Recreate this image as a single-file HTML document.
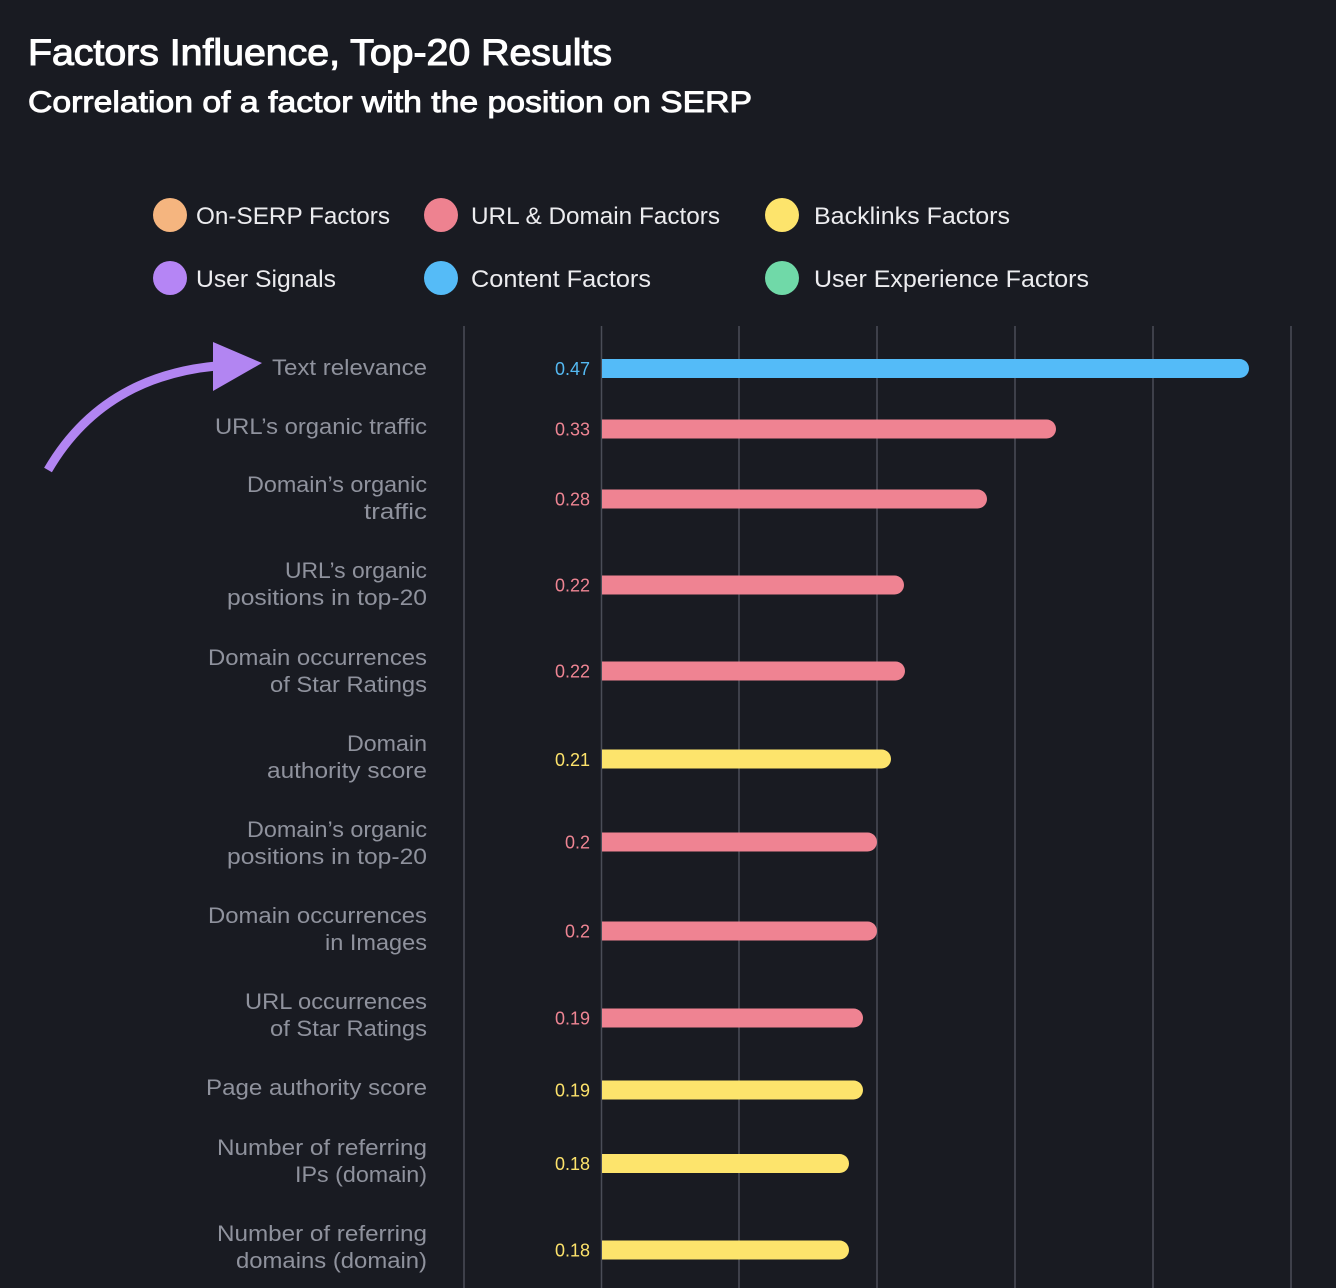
<!DOCTYPE html>
<html>
<head>
<meta charset="utf-8">
<style>
  html, body { margin: 0; padding: 0; background: #191b22; }
  svg { display: block; }
  text { font-family: "Liberation Sans", "DejaVu Sans", sans-serif; }
</style>
</head>
<body>
<svg width="1336" height="1288" viewBox="0 0 1336 1288" xmlns="http://www.w3.org/2000/svg">
  <rect x="0" y="0" width="1336" height="1288" fill="#191b22"/>

  <!-- Titles -->
  <text x="28" y="65" font-size="37" fill="#ffffff" stroke="#ffffff" stroke-width="1.1" textLength="584" lengthAdjust="spacingAndGlyphs">Factors Influence, Top-20 Results</text>
  <text x="28" y="112" font-size="30" fill="#ffffff" stroke="#ffffff" stroke-width="0.9" textLength="724" lengthAdjust="spacingAndGlyphs">Correlation of a factor with the position on SERP</text>

  <!-- Legend -->
  <g font-size="24" fill="#ececef">
    <circle cx="170" cy="215" r="17" fill="#f5b57f"/>
    <text x="196" y="224" textLength="194" lengthAdjust="spacingAndGlyphs">On-SERP Factors</text>
    <circle cx="441" cy="215" r="17" fill="#ee8290"/>
    <text x="471" y="224" textLength="249" lengthAdjust="spacingAndGlyphs">URL &amp; Domain Factors</text>
    <circle cx="782" cy="215" r="17" fill="#fde46c"/>
    <text x="814" y="224" textLength="196" lengthAdjust="spacingAndGlyphs">Backlinks Factors</text>

    <circle cx="170" cy="278" r="17" fill="#b585f5"/>
    <text x="196" y="287" textLength="140" lengthAdjust="spacingAndGlyphs">User Signals</text>
    <circle cx="441" cy="278" r="17" fill="#55bbf7"/>
    <text x="471" y="287" textLength="180" lengthAdjust="spacingAndGlyphs">Content Factors</text>
    <circle cx="782" cy="278" r="17" fill="#70d9a8"/>
    <text x="814" y="287" textLength="275" lengthAdjust="spacingAndGlyphs">User Experience Factors</text>
  </g>

  <!-- Grid lines -->
  <g stroke="#4a4d57" stroke-width="1.5">
    <line x1="464" y1="326" x2="464" y2="1288"/>
    <line x1="601.5" y1="326" x2="601.5" y2="1288"/>
    <line x1="739" y1="326" x2="739" y2="1288"/>
    <line x1="877" y1="326" x2="877" y2="1288"/>
    <line x1="1015" y1="326" x2="1015" y2="1288"/>
    <line x1="1153" y1="326" x2="1153" y2="1288"/>
    <line x1="1291" y1="326" x2="1291" y2="1288"/>
  </g>

  <!-- Arrow -->
  <path d="M48,470 Q102,377 216,366" fill="none" stroke="#b285f2" stroke-width="9" stroke-linecap="butt"/>
  <polygon points="213,342 262,363 213,391" fill="#b285f2"/>

  <!-- Category labels -->
  <g font-size="22.5" fill="#8f929d" text-anchor="end">
    <text x="427" y="375" textLength="155" lengthAdjust="spacingAndGlyphs">Text relevance</text>
    <text x="427" y="434" textLength="212" lengthAdjust="spacingAndGlyphs">URL’s organic traffic</text>

    <text x="427" y="492" textLength="180" lengthAdjust="spacingAndGlyphs">Domain’s organic</text>
    <text x="427" y="519" textLength="63" lengthAdjust="spacingAndGlyphs">traffic</text>

    <text x="427" y="578" textLength="142" lengthAdjust="spacingAndGlyphs">URL’s organic</text>
    <text x="427" y="605" textLength="200" lengthAdjust="spacingAndGlyphs">positions in top-20</text>

    <text x="427" y="665" textLength="219" lengthAdjust="spacingAndGlyphs">Domain occurrences</text>
    <text x="427" y="692" textLength="157" lengthAdjust="spacingAndGlyphs">of Star Ratings</text>

    <text x="427" y="751" textLength="80" lengthAdjust="spacingAndGlyphs">Domain</text>
    <text x="427" y="778" textLength="160" lengthAdjust="spacingAndGlyphs">authority score</text>

    <text x="427" y="837" textLength="180" lengthAdjust="spacingAndGlyphs">Domain’s organic</text>
    <text x="427" y="864" textLength="200" lengthAdjust="spacingAndGlyphs">positions in top-20</text>

    <text x="427" y="923" textLength="219" lengthAdjust="spacingAndGlyphs">Domain occurrences</text>
    <text x="427" y="950" textLength="102" lengthAdjust="spacingAndGlyphs">in Images</text>

    <text x="427" y="1009" textLength="182" lengthAdjust="spacingAndGlyphs">URL occurrences</text>
    <text x="427" y="1036" textLength="157" lengthAdjust="spacingAndGlyphs">of Star Ratings</text>

    <text x="427" y="1095" textLength="221" lengthAdjust="spacingAndGlyphs">Page authority score</text>

    <text x="427" y="1155" textLength="210" lengthAdjust="spacingAndGlyphs">Number of referring</text>
    <text x="427" y="1182" textLength="132" lengthAdjust="spacingAndGlyphs">IPs (domain)</text>

    <text x="427" y="1241" textLength="210" lengthAdjust="spacingAndGlyphs">Number of referring</text>
    <text x="427" y="1268" textLength="191" lengthAdjust="spacingAndGlyphs">domains (domain)</text>
  </g>

  <!-- Bars -->
  <g>
    <path d="M602,359 H1239.5 A9.5,9.5 0 0 1 1239.5,378 H602 Z" fill="#54bbf8"/>
    <path d="M602,419.5 H1046.5 A9.5,9.5 0 0 1 1046.5,438.5 H602 Z" fill="#ef8392"/>
    <path d="M602,489.5 H977.5 A9.5,9.5 0 0 1 977.5,508.5 H602 Z" fill="#ef8392"/>
    <path d="M602,575.5 H894.5 A9.5,9.5 0 0 1 894.5,594.5 H602 Z" fill="#ef8392"/>
    <path d="M602,661.5 H895.5 A9.5,9.5 0 0 1 895.5,680.5 H602 Z" fill="#ef8392"/>
    <path d="M602,749.5 H881.5 A9.5,9.5 0 0 1 881.5,768.5 H602 Z" fill="#fde46c"/>
    <path d="M602,832.5 H867.5 A9.5,9.5 0 0 1 867.5,851.5 H602 Z" fill="#ef8392"/>
    <path d="M602,921.5 H867.5 A9.5,9.5 0 0 1 867.5,940.5 H602 Z" fill="#ef8392"/>
    <path d="M602,1008.5 H853.5 A9.5,9.5 0 0 1 853.5,1027.5 H602 Z" fill="#ef8392"/>
    <path d="M602,1080.5 H853.5 A9.5,9.5 0 0 1 853.5,1099.5 H602 Z" fill="#fde46c"/>
    <path d="M602,1154 H839.5 A9.5,9.5 0 0 1 839.5,1173 H602 Z" fill="#fde46c"/>
    <path d="M602,1240.5 H839.5 A9.5,9.5 0 0 1 839.5,1259.5 H602 Z" fill="#fde46c"/>
  </g>

  <!-- Value labels -->
  <g font-size="18" text-anchor="end">
    <text x="590" y="375" fill="#54b9f2">0.47</text>
    <text x="590" y="435.5" fill="#ee8593">0.33</text>
    <text x="590" y="505.5" fill="#ee8593">0.28</text>
    <text x="590" y="591.5" fill="#ee8593">0.22</text>
    <text x="590" y="677.5" fill="#ee8593">0.22</text>
    <text x="590" y="766" fill="#fce26b">0.21</text>
    <text x="590" y="848.5" fill="#ee8593">0.2</text>
    <text x="590" y="937.5" fill="#ee8593">0.2</text>
    <text x="590" y="1024.5" fill="#ee8593">0.19</text>
    <text x="590" y="1096.5" fill="#fce26b">0.19</text>
    <text x="590" y="1170" fill="#fce26b">0.18</text>
    <text x="590" y="1256.5" fill="#fce26b">0.18</text>
  </g>
</svg>
</body>
</html>
